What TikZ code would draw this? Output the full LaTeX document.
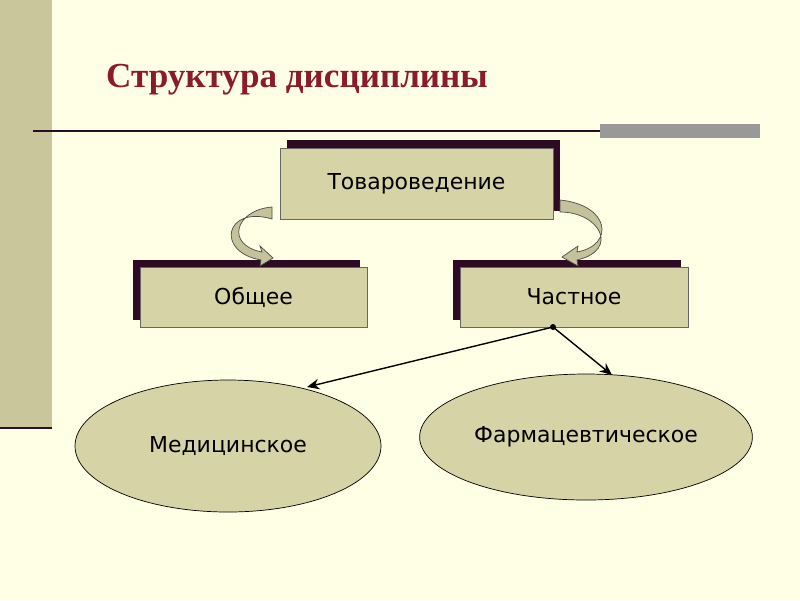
\documentclass[tikz,border=0pt]{standalone}
\usepackage{fontspec}
\setmainfont{DejaVu Sans}
\newfontfamily\titlefont{Liberation Serif}
\usetikzlibrary{shapes.geometric,arrows.meta}
\definecolor{bgcream}{HTML}{FFFFE6}
\definecolor{khaki}{HTML}{D6D3A6}
\definecolor{barkhaki}{HTML}{C9C69C}
\definecolor{shadowdark}{HTML}{2E0A24}
\definecolor{titlered}{HTML}{8B1A2B}
\definecolor{arrowfill}{HTML}{C4C29A}
\tikzset{
    box/.style = {rectangle, draw=black!60, fill=khaki, thin, font=\fontsize{12.5}{15}\selectfont, inner sep=0pt},
    shade/.style = {fill=shadowdark, draw=none},
    oval/.style = {ellipse, draw=black, fill=khaki, thin, font=\fontsize{12.5}{15}\selectfont},
    link/.style = {-{Stealth[length=7pt,width=6pt]}, thick},
    bentarrow/.style = {fill=arrowfill, draw=black!70, thin}
}
\begin{document}
\begin{tikzpicture}[x=0.02cm,y=-0.02cm]
\useasboundingbox (0,0) rectangle (800,600);
\fill[bgcream] (0,0) rectangle (800,600);
% left bar and rules
\fill[barkhaki] (0,0) rectangle (52,428);
\draw[shadowdark, line width=1.2pt] (0,428) -- (52,428);
\draw[shadowdark, line width=1pt] (33,131) -- (760,131);
\fill[black!40] (600,124) rectangle (760,138);
\node[anchor=west, text=titlered, font=\titlefont\fontsize{20}{24}\selectfont\bfseries] (title) at (100,80) {Структура дисциплины};
% shadows
\fill[shade] (287,140) rectangle (560,211);
\fill[shade] (133,260) rectangle (360,320);
\fill[shade] (453,260) rectangle (681,320);
% boxes
\node[box, minimum width=273*0.02cm, minimum height=71*0.02cm] (top) at (416.5,183.5) {Товароведение};
\node[box, minimum width=227*0.02cm, minimum height=60*0.02cm] (general) at (253.5,297) {Общее};
\node[box, minimum width=228*0.02cm, minimum height=60*0.02cm] (special) at (574,297) {Частное};
% bent arrows
\draw[bentarrow] (272,207) .. controls (235,210) and (225,245) .. (262,252) -- (260,246) -- (273,258) -- (260,266) -- (261,260)
    .. controls (215,252) and (225,205) .. (272,219) -- cycle;
\draw[bentarrow] (560,200) .. controls (610,205) and (615,245) .. (577,252) -- (578,246) -- (562,257) -- (578,266) -- (577,260)
    .. controls (620,250) and (600,212) .. (560,212) -- cycle;
% ellipses
\node[oval, minimum width=306*0.02cm, minimum height=132*0.02cm] (med) at (228,446) {Медицинское};
\node[oval, minimum width=306*0.02cm, minimum height=126*0.02cm] (pharm) at (586,437) {Фармацевтическое};
\coordinate (fork) at (553,327);
\coordinate (medtip) at (307,387);
\coordinate (pharmtip) at (612,375);
\fill (fork) circle (3);
\draw[link] (fork) -- (medtip);
\draw[link] (fork) -- (pharmtip);
\end{tikzpicture}
\end{document}
